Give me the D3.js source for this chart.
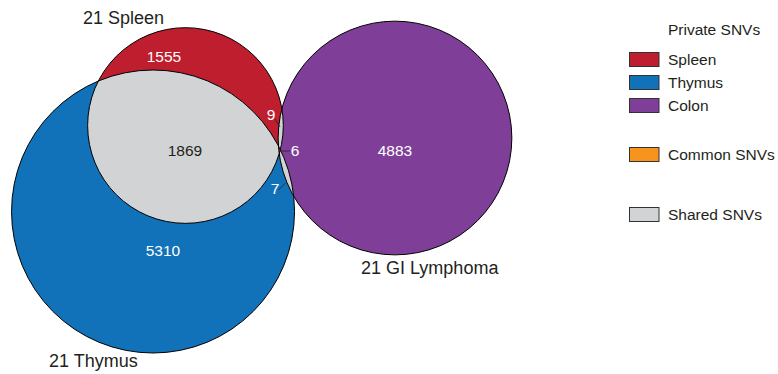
<!DOCTYPE html>
<html>
<head>
<meta charset="utf-8">
<script src="https://cdn.jsdelivr.net/npm/d3@7"></script>
<style>
  html, body { margin: 0; padding: 0; background: #fff; }
  svg { display: block; font-family: "Liberation Sans", Arial, sans-serif; }
</style>
</head>
<body>
<svg id="chart" width="778" height="374"></svg>
<script>
// ---------------- data ----------------
const sets = ["Spleen", "Thymus", "Colon"];
const setLabels = ["21 Spleen", "21 Thymus", "21 GI Lymphoma"];
const privateCounts = [1555, 5310, 4883];          // only-in-one-set counts
const pairs = [[0, 1], [0, 2], [1, 2]];              // Spleen∩Thymus, Spleen∩Colon, Thymus∩Colon
const pairCounts = [1869, 9, 7];
const commonCount = 6;                                // in all three
const legendTitle = "Private SNVs";
const legendPrivate = ["Spleen", "Thymus", "Colon"];
const legendCommon = "Common SNVs";
const legendShared = "Shared SNVs";

// layout of the diagram (normalised units, 0..1 across the drawing area)
const layoutX = [0.2384, 0.1967, 0.5077];
const layoutY = [0.3356, 0.5655, 0.3690];

// ---------------- styles ----------------
const setColors = ["#BE1E2D", "#1172BA", "#7F3F98"];
const sharedColor = "#D1D3D4";
const commonColor = "#F7941D";
const textColor = "#231F20";

const W = 778, H = 374;
const svg = d3.select("#chart");
svg.append("rect").attr("width", W).attr("height", H).attr("fill", "#fff");

// set totals -> radii (area proportional)
const totals = sets.map((s, i) => {
  let t = privateCounts[i] + commonCount;
  pairs.forEach((p, j) => { if (p.includes(i)) t += pairCounts[j]; });
  return t;
});
const r = d3.scaleSqrt().domain([0, d3.max(totals)]).range([0, 141.5]);
const x = d3.scaleLinear().domain([0, 1]).range([0, W]);
const y = d3.scaleLinear().domain([0, 1]).range([0, H]);

const circles = sets.map((s, i) => ({ name: s, cx: x(layoutX[i]), cy: y(layoutY[i]), r: r(totals[i]), i }));

const defs = svg.append("defs");
circles.forEach(c => {
  defs.append("clipPath").attr("id", "clip-" + c.i)
    .append("circle").attr("cx", c.cx).attr("cy", c.cy).attr("r", c.r);
});

const g = svg.append("g");
// private fills
g.selectAll("circle.set").data(circles).join("circle")
  .attr("class", "set")
  .attr("cx", d => d.cx).attr("cy", d => d.cy).attr("r", d => d.r)
  .attr("fill", d => setColors[d.i]);

// pairwise shared
pairs.forEach(([a, b]) => {
  const ca = circles[a];
  g.append("circle")
    .attr("cx", ca.cx).attr("cy", ca.cy).attr("r", ca.r)
    .attr("fill", sharedColor)
    .attr("clip-path", `url(#clip-${b})`);
});
// common (all three)
g.append("g").attr("clip-path", "url(#clip-2)")
  .append("circle")
  .attr("cx", circles[0].cx).attr("cy", circles[0].cy).attr("r", circles[0].r)
  .attr("fill", commonColor)
  .attr("clip-path", "url(#clip-1)");

// outlines
g.selectAll("circle.outline").data(circles).join("circle")
  .attr("class", "outline")
  .attr("cx", d => d.cx).attr("cy", d => d.cy).attr("r", d => d.r)
  .attr("fill", "none").attr("stroke", "#000").attr("stroke-width", 1);

// set name labels
const setLabelPos = [[83, 24], [49, 367], [361, 274]];
svg.selectAll("text.setname").data(setLabels).join("text")
  .attr("class", "setname")
  .attr("x", (d, i) => setLabelPos[i][0]).attr("y", (d, i) => setLabelPos[i][1])
  .attr("font-size", 18).attr("fill", textColor)
  .text(d => d);

// count labels
const countLabels = [
  { v: privateCounts[0], x: 164, y: 62, c: "#fff" },
  { v: privateCounts[1], x: 163, y: 256, c: "#fff" },
  { v: privateCounts[2], x: 395, y: 155.5, c: "#fff" },
  { v: pairCounts[0], x: 185, y: 155.5, c: textColor },
  { v: pairCounts[1], x: 271, y: 120, c: "#fff", line: [275, 119, 280, 127] },
  { v: commonCount, x: 295, y: 156, c: "#fff", line: [280, 151, 290, 151] },
  { v: pairCounts[2], x: 275, y: 193.5, c: "#fff", line: [278.5, 190, 285.5, 183] }
];
svg.selectAll("line.leader").data(countLabels.filter(d => d.line)).join("line")
  .attr("class", "leader")
  .attr("x1", d => d.line[0]).attr("y1", d => d.line[1])
  .attr("x2", d => d.line[2]).attr("y2", d => d.line[3])
  .attr("stroke", "#231F20").attr("stroke-width", 0.8);
svg.selectAll("text.count").data(countLabels).join("text")
  .attr("class", "count")
  .attr("x", d => d.x).attr("y", d => d.y)
  .attr("text-anchor", "middle")
  .attr("font-size", 15.5).attr("fill", d => d.c)
  .text(d => d.v);

// legend
const leg = svg.append("g");
leg.append("text").attr("x", 668).attr("y", 35).attr("font-size", 15.5).attr("fill", textColor).text(legendTitle);
const legItems = [
  { label: legendPrivate[0], color: setColors[0], y: 52 },
  { label: legendPrivate[1], color: setColors[1], y: 75 },
  { label: legendPrivate[2], color: setColors[2], y: 98 },
  { label: legendCommon, color: commonColor, y: 147 },
  { label: legendShared, color: sharedColor, y: 207 }
];
const li = leg.selectAll("g.item").data(legItems).join("g").attr("class", "item");
li.append("rect")
  .attr("x", 629.5).attr("y", d => d.y + 0.5).attr("width", 29.5).attr("height", 14)
  .attr("fill", d => d.color).attr("stroke", "#333").attr("stroke-width", 1);
li.append("text")
  .attr("x", 668).attr("y", d => d.y + 13)
  .attr("font-size", 15.5).attr("fill", textColor)
  .text(d => d.label);
</script>
</body>
</html>
